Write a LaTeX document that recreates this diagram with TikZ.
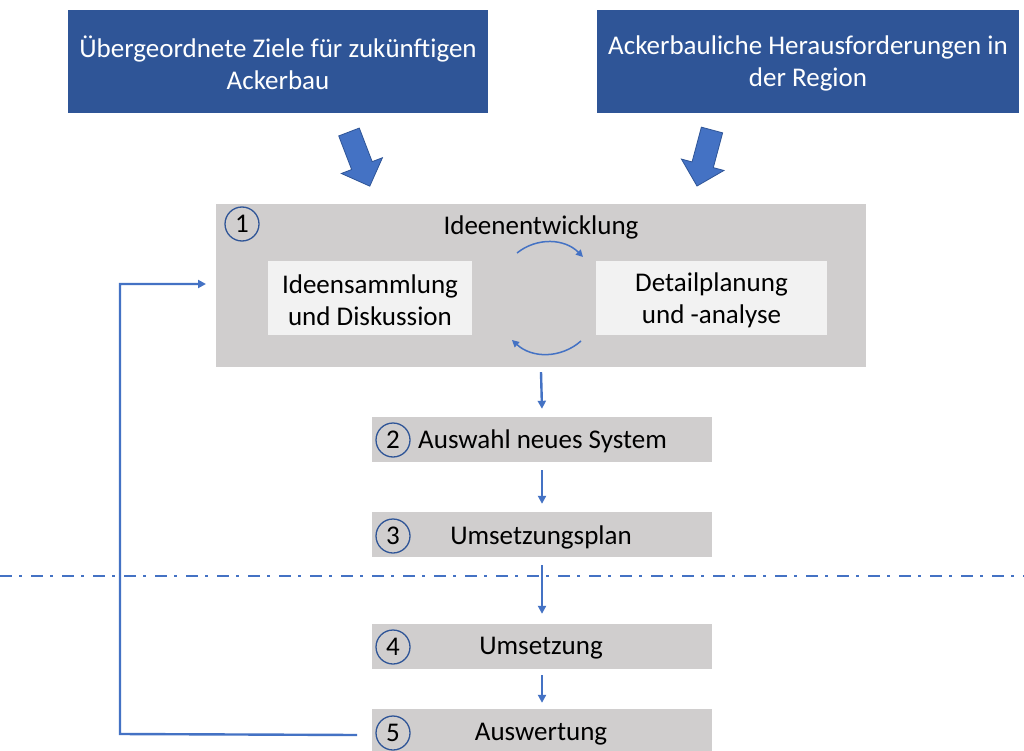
\documentclass[tikz,border=0pt]{standalone}
\usepackage{fontspec}
\setmainfont{Carlito}
\usetikzlibrary{arrows.meta,calc}
\definecolor{dblue}{HTML}{2F5597}
\definecolor{mblue}{HTML}{4472C4}
\definecolor{gbox}{HTML}{D0CECE}
\definecolor{lbox}{HTML}{F2F2F2}
\tikzset{
  topbox/.style={fill=dblue, draw=none, minimum width=420pt, minimum height=103pt, text=white, align=center, font=\fontsize{27}{32}\selectfont, inner sep=0pt},
  stepbox/.style={fill=gbox, draw=none, minimum width=340pt, minimum height=45pt, inner sep=0pt},
  innerbox/.style={fill=lbox, draw=none, minimum height=74pt, inner sep=0pt, align=center, font=\fontsize{27}{32}\selectfont},
  numcirc/.style={circle, draw=dblue, line width=1.3pt, minimum size=34pt, inner sep=0pt, font=\fontsize{27}{27}\selectfont},
  conn/.style={draw=mblue, line width=2.4pt, -{Triangle[length=8pt,width=8pt]}},
  blockarrow/.style={fill=mblue, draw=dblue, line width=0.8pt},
  lbl/.style={inner sep=0pt, font=\fontsize{27}{32}\selectfont}
}
\begin{document}
\begin{tikzpicture}[x=1pt,y=-1pt]
\clip (0,0) rectangle (1024,751);
\fill[white] (0,0) rectangle (1024,751);

% top boxes
\node[topbox] (goal) at (278,61.5) {};
\node[lbl, text=white, align=center] (goalt) at (278,63) {Übergeordnete Ziele für zukünftigen\\Ackerbau};
\node[topbox, minimum width=422pt] (chal) at (808,61.5) {};
\node[lbl, text=white, align=center] (chalt) at (808,63) {Ackerbauliche Herausforderungen in\\der Region};

% block arrows
\path[blockarrow, shift={(349,132)}, rotate=-69]
  (0,-11) -- (36,-11) -- (36,-22) -- (58,0) -- (36,22) -- (36,11) -- (0,11) -- cycle;
\path[blockarrow, shift={(712,130)}, rotate=-105]
  (0,-11) -- (36,-11) -- (36,-22) -- (58,0) -- (36,22) -- (36,11) -- (0,11) -- cycle;

% big box
\node[fill=gbox, minimum width=650pt, minimum height=163pt, inner sep=0pt] (idee) at (541,285.5) {};
\node[numcirc] (c1) at (242,224) {1};
\node[lbl] (ititle) at (541,227) {Ideenentwicklung};
\node[innerbox, minimum width=204pt] (samm) at (370,298) {};
\node[lbl, align=center] (sammt) at (370,300) {Ideensammlung\\und Diskussion};
\node[innerbox, minimum width=231pt] (detail) at (711.5,298) {};
\node[lbl, align=center] (detailt) at (711.5,300) {Detailplanung\\und -analyse};

\coordinate (t1) at (517,253);
\coordinate (t2) at (583,257);
\coordinate (b1) at (581,341);
\coordinate (b2) at (512,340);
\draw[draw=mblue, line width=1.5pt, -{Triangle[length=7pt,width=7pt]}] (t1) to[bend left=42] (t2);
\draw[draw=mblue, line width=1.5pt, -{Triangle[length=7pt,width=7pt]}] (b1) to[bend left=42] (b2);

% steps
\node[stepbox] (s2) at (542,439.5) {};
\node[numcirc] (c2) at (393,440) {2};
\node[lbl, anchor=west] (t2l) at (418,441) {Auswahl neues System};

\node[stepbox] (s3) at (542,534.5) {};
\node[numcirc] (c3) at (393,536) {3};
\node[lbl] (t3l) at (541,537) {Umsetzungsplan};

\node[stepbox] (s4) at (542,646.5) {};
\node[numcirc] (c4) at (393,647) {4};
\node[lbl] (t4l) at (541,648) {Umsetzung};

\node[stepbox] (s5) at (542,731.5) {};
\node[numcirc] (c5) at (393,733) {5};
\node[lbl] (t5l) at (541,734) {Auswertung};

% dash-dot line
\coordinate (dl) at (0,576);
\coordinate (dr) at (1024,576);
\draw[mblue, line width=2.4pt, dash pattern=on 12pt off 7pt on 3pt off 9pt] (dl) -- (dr);

% connectors
\draw[conn] ($(idee.south)+(0,5)$) -- ($(s2.north)+(0,-8)$);
\draw[conn] ($(s2.south)+(0,8)$) -- ($(s3.north)+(0,-8)$);
\draw[conn] ($(s3.south)+(0,8)$) -- ($(s4.north)+(0,-10)$);
\draw[conn] ($(s4.south)+(0,6)$) -- ($(s5.north)+(0,-6)$);

% feedback
\coordinate (fb0) at (357,735);
\coordinate (fbc) at (120,734);
\coordinate (fbe) at (206,284);
\draw[conn] (fb0) -- (fbc) |- (fbe);
\end{tikzpicture}
\end{document}
